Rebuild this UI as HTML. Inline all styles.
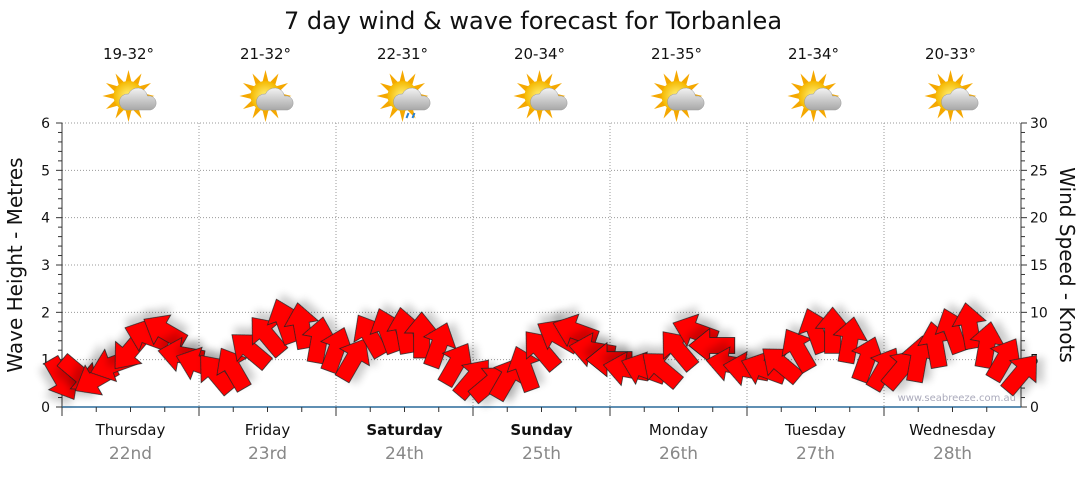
<!DOCTYPE html>
<html><head><meta charset="utf-8"><style>
body{margin:0;background:#fff;font-family:"Liberation Sans","DejaVu Sans",sans-serif}
svg text{font-family:"DejaVu Sans","Liberation Sans",sans-serif}
</style></head><body>
<svg id="c" width="1080" height="475" viewBox="0 0 1080 475" xmlns="http://www.w3.org/2000/svg">
<defs>
<filter id="sh" x="-50%" y="-50%" width="200%" height="200%"><feGaussianBlur in="SourceAlpha" stdDeviation="4"/><feOffset dx="3" dy="7"/><feComponentTransfer><feFuncA type="linear" slope="0.2"/></feComponentTransfer><feMerge><feMergeNode/><feMergeNode in="SourceGraphic"/></feMerge></filter>
<radialGradient id="sun" cx="50%" cy="50%" r="50%"><stop offset="0" stop-color="#fff27a"/><stop offset="1" stop-color="#f5b800"/></radialGradient>
<linearGradient id="cl" x1="0" y1="0" x2="0" y2="1"><stop offset="0" stop-color="#f2f2f2"/><stop offset="1" stop-color="#a8a8a8"/></linearGradient>
</defs>
<text x="533" y="29" text-anchor="middle" font-size="24" fill="#111">7 day wind &amp; wave forecast for Torbanlea</text>
<g id="grid"></g><g id="axes"></g><g id="icons"></g><g id="arrows"></g>
<text transform="translate(22,265) rotate(-90)" text-anchor="middle" font-size="20" fill="#111">Wave Height - Metres</text>
<text transform="translate(1060,265) rotate(90)" text-anchor="middle" font-size="20" fill="#111">Wind Speed - Knots</text>
<text x="1016" y="401" text-anchor="end" font-size="10" fill="#aab">www.seabreeze.com.au</text>
</svg>
<script>
const days=["Thursday","Friday","Saturday","Sunday","Monday","Tuesday","Wednesday"];
const dates=["22nd","23rd","24th","25th","26th","27th","28th"];
const boldDays=[false,false,true,true,false,false,false];
const temps=["19-32°","21-32°","22-31°","20-34°","21-35°","21-34°","20-33°"];
const rainy=[false,false,true,false,false,false,false];
const leftTicks=[0,1,2,3,4,5,6];
const rightTicks=[0,5,10,15,20,25,30];
const windKnots=[3,3.5,3,4.5,6,7.5,8,5.5, 4.5,3.5,4,6,7.5,9,8.5,7, 6,5,7.5,8,8,7.5,6.5,4.5, 3,2.5,3,4,6,7.5,8,6, 5,4,4,4,6,8,6.5,4.5, 4,4,4.5,6,8,8,7,5, 4,4,5,6.5,8,8.5,6.5,5,3.5];
const windDir=[60,40,150,160,130,200,210,190, 200,230,240,220,230,250,260,280, 290,300,240,250,260,270,290,300, 310,320,300,250,230,210,200,190, 180,190,200,220,230,200,180,190, 190,200,220,240,250,270,280,290, 300,310,280,260,250,260,280,300,310];
const X0=62,X1=1021,Y0=407,Y6=123;
const xs=t=>X0+(X1-X0)*t/56, yM=m=>Y0-(Y0-Y6)*m/6, yK=k=>yM(k/5);
const NS="http://www.w3.org/2000/svg";
function mk(tag,attrs,parent){const e=document.createElementNS(NS,tag);for(const k in attrs)e.setAttribute(k,attrs[k]);parent.appendChild(e);return e;}
const grid=document.getElementById('grid'),axes=document.getElementById('axes'),icons=document.getElementById('icons'),arr=document.getElementById('arrows');
leftTicks.forEach((v,i)=>{
 if(v>0){const g=mk('line',{x1:X0,x2:X1,y1:yM(v),y2:yM(v),stroke:'#999','stroke-dasharray':'1,2'},grid);}
 const t=mk('text',{x:50,y:yM(v)+5,'text-anchor':'end','font-size':14,fill:'#111'},axes);t.textContent=v;
 
 mk('line',{x1:X0-6,x2:X0,y1:yM(v),y2:yM(v),stroke:'#333'},axes);
 if(v<6)for(let j=1;j<5;j++)mk('line',{x1:X0-4,x2:X0,y1:yM(v+j/5),y2:yM(v+j/5),stroke:'#333'},axes);
});
rightTicks.forEach(v=>{
 const t=mk('text',{x:1030,y:yK(v)+5,'font-size':14,fill:'#111'},axes);t.textContent=v;
 
 mk('line',{x1:X1,x2:X1+6,y1:yK(v),y2:yK(v),stroke:'#333'},axes);
 if(v<30)for(let j=1;j<5;j++)mk('line',{x1:X1,x2:X1+4,y1:yK(v+j),y2:yK(v+j),stroke:'#333'},axes);
});
mk('line',{x1:X0,x2:X0,y1:Y6,y2:Y0,stroke:'#333'},axes);
mk('line',{x1:X1,x2:X1,y1:Y6,y2:Y0,stroke:'#333'},axes);
mk('line',{x1:X0,x2:X1,y1:Y0,y2:Y0,stroke:'#2a6a9a','stroke-width':1.5},axes);
days.forEach((d,i)=>{
 const xa=X0+(X1-X0)*i/7,xc=xa+(X1-X0)/14;
 if(i>0){const g=mk('line',{x1:xa,x2:xa,y1:Y6,y2:Y0,stroke:'#999','stroke-dasharray':'1,2'},grid);}
 mk('line',{x1:xa,x2:xa,y1:Y0,y2:Y0+9,stroke:'#333'},axes);
 for(let j=1;j<4;j++){const xx=xa+(X1-X0)/28*j;mk('line',{x1:xx,x2:xx,y1:Y0,y2:Y0+5,stroke:'#333'},axes);}
 const t=mk('text',{x:xc,y:435,'text-anchor':'middle','font-size':15,fill:'#111','font-weight':boldDays[i]?'bold':'normal'},axes);t.textContent=d;
 
 const t2=mk('text',{x:xc,y:459,'text-anchor':'middle','font-size':17,fill:'#888'},axes);t2.textContent=dates[i];
 
 const t3=mk('text',{x:xc-2,y:59,'text-anchor':'middle','font-size':15,fill:'#111'},icons);t3.textContent=temps[i];
 
 const g=mk('g',{transform:`translate(${xc-2},96)`},icons);
 
 for(let k=0;k<12;k++){mk('polygon',{points:'-3,-14 3,-14 0,-26',fill:'#f5a800',transform:`rotate(${k*30})`},g);}
 mk('circle',{cx:0,cy:0,r:15,fill:'url(#sun)'},g);
 mk('path',{d:'M-2,14 a8,8 0 0 1 2,-16 a10,10 0 0 1 19,2 a7,7 0 0 1 3,14 z',fill:'url(#cl)',stroke:'#999','stroke-width':0.5},g);
 if(rainy[i]){mk('path',{d:'M6,17 l-2,5 M12,17 l-2,5',stroke:'#2a80d0','stroke-width':2},g);}
});
windKnots.forEach((k,i)=>{
 const g=mk('g',{transform:`translate(${xs(i)},${yK(k)}) rotate(${windDir[i]})`,filter:'url(#sh)'},arr);
 
 mk('polygon',{points:'-22,-8 3,-8 3,-17 24,0 3,17 3,8 -22,8',fill:'#f00',stroke:'#222','stroke-width':0.8},g);
});
</script>
</body></html>
